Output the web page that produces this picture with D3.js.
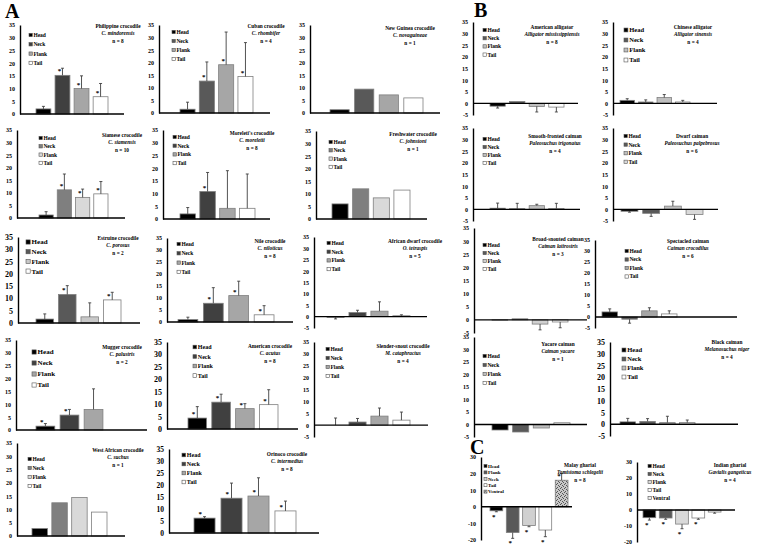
<!DOCTYPE html>
<html lang="en">
<head>
<meta charset="UTF-8">
<title>Body region panels</title>
<script src="https://d3js.org/d3.v7.min.js"></script>
<style>
  body { margin: 0; background: #fff; }
  text { font-family: 'Liberation Serif', 'Times New Roman', serif; font-weight: bold; }
</style>
</head>
<body>
<script>
// legend labels
const parts = ["Head", "Neck", "Flank", "Tail"];
const partsMalay = ["Head", "Flank", "Neck", "Tail", "Ventral"];
const partsIndian = ["Head", "Neck", "Flank", "Tail", "Ventral"];

// tick labels
const ticksPos = [0, 5, 10, 15, 20, 25, 30, 35];
const ticksNeg = [-5, 0, 5, 10, 15, 20, 25, 30, 35];
const ticksC = [-20, -10, 0, 10, 20, 30];

// mean values, top of error bar, asterisk flags
const philippineMean = [2, 15.2, 10, 6.8];
const philippineErr = [3, 18, 15, 12];
const philippineStar = [0, 1, 1, 1];
const cubanMean = [1.5, 12.7, 19.2, 14.5];
const cubanErr = [4.3, 20.3, 32.2, 28];
const cubanStar = [0, 1, 1, 1];
const newGuineaMean = [1.3, 9.5, 7.2, 6];
const siameseMean = [1.2, 11.2, 8.2, 9.6];
const siameseErr = [2.5, 17.5, 11.5, 14.5];
const siameseStar = [0, 1, 1, 1];
const moreletiMean = [2, 10.8, 4.2, 4.2];
const moreletiErr = [4.5, 18.3, 19, 17.7];
const moreletiStar = [0, 1, 0, 0];
const freshwaterMean = [6, 12, 8.4, 11.5];
const estuarineMean = [1.6, 11.6, 2.5, 9.4];
const estuarineErr = [3.7, 15.2, 8.2, 12.5];
const estuarineStar = [0, 1, 0, 1];
const nileMean = [1, 7.8, 11, 3];
const nileErr = [2, 14.3, 17, 6.8];
const nileStar = [0, 1, 1, 1];
const dwarfCrocMean = [-0.3, 1.8, 2.4, 0.4];
const dwarfCrocErr = [-1, 2.8, 6.5, 0.8];
const muggerMean = [1.5, 5.8, 8, null];
const muggerErr = [2.5, 8, 16, null];
const muggerStar = [1, 1, 0, 0];
const acutusMean = [4.4, 10.8, 8.2, 9.8];
const acutusErr = [9, 14, 10.2, 15.8];
const acutusStar = [1, 1, 1, 1];
const slenderMean = [0, 1.3, 3.8, 2.1];
const slenderErr = [3, 2.8, 7.2, 5.5];
const westAfricanMean = [2.8, 12.5, 14.5, 9];
const orinocoMean = [6.2, 14.5, 15.4, 9.2];
const orinocoErr = [6.8, 20.8, 23, 13.3];
const orinocoStar = [1, 1, 1, 1];

const alligatorMean = [-1.2, 0.8, -1.3, -1.6];
const alligatorErr = [-2, null, -3.7, -3.7];
const chineseMean = [1.3, 0.6, 2.5, 0.6];
const chineseErr = [2, 1.5, 3.8, 1.3];
const smoothMean = [0.5, 0.3, 1.6, 0.4];
const smoothErr = [2.7, 2.6, 2.2, 2.6];
const dwarfCaimanMean = [-0.8, -1.7, 1.4, -2.2];
const dwarfCaimanErr = [-1.2, -3, 3.5, -4.3];
const broadMean = [-0.1, 0.4, -1.6, -0.8];
const broadErr = [null, null, -3.8, -3];
const spectacledMean = [2.3, -1, 2.8, 1.4];
const spectacledErr = [3.7, -2.8, 4.2, 2.8];
const yacareMean = [-2.2, -3, -1.4, 0.7];
const blackMean = [1, 1.2, 0.7, 0.7];
const blackErr = [2.5, 2.4, 3.4, 1.8];

const malayMean = [-2.4, -15.5, -11.3, -14, 16];
const malayErr = [-3, -19, -12, -18, 20];
const malayStar = [1, 1, 1, 1, 1];
const indianMean = [-4.8, -5, -8.8, -5, -1.3];
const indianErr = [-6.3, -5.8, -11.7, -5.8, -2];
const indianStar = [1, 1, 1, 1, 0];

const palA = ["#000000", "#404040", "#a6a6a6", "#ffffff"];
const palLight = ["#000000", "#7f7f7f", "#d9d9d9", "#ffffff"];
const palB = ["#000000", "#595959", "#bfbfbf", "#ffffff"];
const palMalay = ["#000000", "#595959", "#d0d0d0", "#ffffff", "url(#stipple)"];
const palIndian = ["#000000", "#595959", "#d9d9d9", "#ffffff", "#ececec"];

const panels = [
  {name: ["Philippine crocodile", "C. mindorensis", "n = 8"], mean: philippineMean, err: philippineErr, star: philippineStar,
   ticks: ticksPos, pal: palA, box: [20, 124, 25, 114, 36, 108], title: [118, 26], legend: [29, 35, 9.3]},
  {name: ["Cuban crocodile", "C. rhombifer", "n = 4"], mean: cubanMean, err: cubanErr, star: cubanStar,
   ticks: ticksPos, pal: ["#000000", "#595959", "#a6a6a6", "#ffffff"], box: [159, 270, 25, 113, 180, 253], title: [266, 26], legend: [172, 32, 9]},
  {name: ["New Guinea crocodile", "C. novaguineae", "n = 1"], mean: newGuineaMean,
   ticks: ticksPos, pal: ["#000000", "#595959", "#a6a6a6", "#ffffff"], box: [310, 440, 25, 113, 330, 423], title: [410, 28]},
  {name: ["Siamese crocodile", "C. siamensis", "n = 10"], mean: siameseMean, err: siameseErr, star: siameseStar,
   ticks: ticksPos, pal: palLight, box: [17, 125, 130, 218, 39, 108], title: [122, 135], legend: [39, 138, 8.3]},
  {name: ["Moreleti's crocodile", "C. moreletii", "n = 8"], mean: moreletiMean, err: moreletiErr, star: moreletiStar,
   ticks: ticksPos, pal: palA, box: [163, 270, 130, 219, 180, 255], title: [252, 133], legend: [173, 137, 8.7]},
  {name: ["Freshwater crocodile", "C. johnstoni", "n = 1"], mean: freshwaterMean,
   ticks: ticksPos, pal: palLight, box: [316, 427, 131, 219, 332, 410], title: [413, 134], legend: [329, 142, 8.3]},
  {name: ["Estruine crocodile", "C. porosus", "n = 2"], mean: estuarineMean, err: estuarineErr, star: estuarineStar,
   ticks: ticksPos, pal: ["#000000", "#595959", "#c8c8c8", "#ffffff"], box: [18, 140, 237, 323, 36, 121], title: [118, 238], legend: [26, 242, 9.7], tfs: 8, lfs: 7},
  {name: ["Nile crocodile", "C. niloticus", "n = 8"], mean: nileMean, err: nileErr, star: nileStar,
   ticks: ticksPos, pal: palA, box: [167, 293, 238, 322, 178, 274], title: [270, 241], legend: [177, 244, 9.3]},
  {name: ["African dwarf crocodile", "O. tetraspis", "n = 5"], mean: dwarfCrocMean, err: dwarfCrocErr,
   ticks: ticksNeg, pal: palA, box: [314, 427, 237, 328, 327, 410], title: [415, 241], legend: [327, 243, 8.7]},
  {name: ["Mugger crocodile", "C. palustris", "n = 2"], mean: muggerMean, err: muggerErr, star: muggerStar,
   ticks: ticksPos, pal: palA, box: [16, 147, 340, 430, 36, 127], title: [122, 347], legend: [32, 352, 11], lfs: 7},
  {name: ["American crocodile", "C. acutus", "n = 8"], mean: acutusMean, err: acutusErr, star: acutusStar,
   ticks: ticksPos, pal: palA, box: [167, 298, 342, 429, 188, 278], title: [270, 346], legend: [193, 347, 9.5], tfs: 8, lfs: 6},
  {name: ["Slender-snout crocodile", "M. cataphractus", "n = 4"], mean: slenderMean, err: slenderErr,
   ticks: ticksNeg, pal: palA, box: [314, 428, 342, 437, 327, 410], title: [403, 346], legend: [326, 349, 9]},
  {name: ["West African crocodile", "C. suchus", "n = 1"], mean: westAfricanMean,
   ticks: ticksPos, pal: palLight, box: [17, 125, 443, 536, 32, 107], title: [118, 450], legend: [28, 459, 9]},
  {name: ["Orinoco crocodile", "C. intermedius", "n = 8"], mean: orinocoMean, err: orinocoErr, star: orinocoStar,
   ticks: ticksPos, pal: palA, box: [169, 319, 449, 533, 194, 296], title: [287, 454], legend: [182, 455, 9], tfs: 7.5, lfs: 6},

  {name: ["American alligator", "Alligator mississippiensis", "n = 8"], mean: alligatorMean, err: alligatorErr,
   ticks: ticksNeg, pal: palB, box: [473, 578, 22, 115, 490, 564], title: [552, 27], legend: [483, 30, 8.2]},
  {name: ["Chinese alligator", "Alligator sinensis", "n = 4"], mean: chineseMean, err: chineseErr,
   ticks: ticksNeg, pal: palB, box: [613, 717, 22, 115, 620, 690], title: [693, 27], legend: [624, 30, 10], lfs: 6.5},
  {name: ["Smooth-fronted caiman", "Paleosuchus trigonatus", "n = 4"], mean: smoothMean, err: smoothErr,
   ticks: ticksNeg, pal: palB, box: [473, 580, 128, 221, 490, 564], title: [555, 136], legend: [483, 139, 8]},
  {name: ["Dwarf caiman", "Paleosuchus palpebrosus", "n = 6"], mean: dwarfCaimanMean, err: dwarfCaimanErr,
   ticks: ticksNeg, pal: ["#000000", "#595959", "#bfbfbf", "#d9d9d9"], box: [613, 718, 128, 221, 621, 703], title: [692, 136], legend: [624, 136, 8.6]},
  {name: ["Broad-snouted caiman", "Caiman latirostris", "n = 3"], mean: broadMean, err: broadErr,
   ticks: ticksNeg, pal: ["#000000", "#595959", "#d0d0d0", "#ffffff"], box: [474, 587, 228, 333, 492, 568], title: [558, 239], legend: [483, 245, 8]},
  {name: ["Spectacled caiman", "Caiman crocodilus", "n = 6"], mean: spectacledMean, err: spectacledErr,
   ticks: ticksNeg, pal: ["#000000", "#595959", "#a6a6a6", "#ffffff"], box: [595, 737, 240, 328, 602, 677], title: [688, 241], legend: [625, 251, 8.5]},
  {name: ["Yacare caiman", "Caiman yacare", "n = 1"], mean: yacareMean,
   ticks: ticksNeg, pal: palB, box: [474, 587, 337, 437, 492, 570], title: [558, 344], legend: [483, 356, 9]},
  {name: ["Black caiman", "Melanosuchus niger", "n = 4"], mean: blackMean, err: blackErr,
   ticks: ticksNeg, pal: palB, box: [610, 738, 342, 436, 620, 695], title: [727, 342], legend: [622, 350, 9], tfs: 8, lfs: 6.5},

  {name: ["Malay gharial", "Tomistoma schlegelii", "n = 8"], mean: malayMean, err: malayErr, star: malayStar, labels: partsMalay,
   ticks: ticksC, pal: palMalay, box: [481, 572, 457, 540, 490, 568], title: [580, 465], legend: [484, 466, 6.4], lfs: 5},
  {name: ["Indian gharial", "Gavialis gangeticus", "n = 4"], mean: indianMean, err: indianErr, star: indianStar, labels: partsIndian,
   ticks: ticksC, pal: palIndian, box: [637, 735, 462, 542, 643, 721], title: [730, 465], legend: [648, 466, 8]}
];

const svg = d3.select("body").append("svg").attr("width", 760).attr("height", 547);

const pat = svg.append("defs").append("pattern").attr("id", "stipple")
  .attr("width", 4).attr("height", 4).attr("patternUnits", "userSpaceOnUse");
pat.append("rect").attr("width", 4).attr("height", 4).attr("fill", "#c8c8c8");
[[0, 0], [2, 1], [1, 3], [3, 2]].forEach(d => pat.append("rect")
  .attr("x", d[0]).attr("y", d[1]).attr("width", 1).attr("height", 1).attr("fill", "#555"));

function drawPanel(p) {
  const [ax, x1, yTop, yBot, b0, b1] = p.box;
  const g = svg.append("g");
  const y = d3.scaleLinear().domain(d3.extent(p.ticks)).range([yBot, yTop]);
  const x = d3.scaleBand().domain(d3.range(p.mean.length)).range([b0, b1]).paddingInner(0.22);
  const bw = x.bandwidth();

  const axis = g.append("g").attr("transform", `translate(${ax},0)`)
    .call(d3.axisLeft(y).tickValues(p.ticks).tickSize(0).tickPadding(5).tickFormat(d => String(d)));
  axis.attr("font-size", p.tfs || 6);
  axis.select(".domain").attr("stroke", "#000").attr("stroke-width", 1.4);

  const rows = p.mean.map((v, i) => ({v, i, e: p.err ? p.err[i] : null, s: p.star ? p.star[i] : 0}))
    .filter(d => d.v != null);

  g.selectAll("rect.bar").data(rows).join("rect").attr("class", "bar")
    .attr("x", d => x(d.i)).attr("width", bw)
    .attr("y", d => Math.min(y(d.v), y(0)))
    .attr("height", d => Math.abs(y(d.v) - y(0)))
    .attr("fill", d => p.pal[d.i]).attr("stroke", "#7f7f7f").attr("stroke-width", 0.8);

  const eb = rows.filter(d => d.e != null);
  g.selectAll("line.err").data(eb).join("line").attr("class", "err")
    .attr("x1", d => x(d.i) + bw / 2).attr("x2", d => x(d.i) + bw / 2)
    .attr("y1", d => y(d.v)).attr("y2", d => y(d.e))
    .attr("stroke", "#404040").attr("stroke-width", 0.9);
  g.selectAll("line.cap").data(eb).join("line").attr("class", "cap")
    .attr("x1", d => x(d.i) + bw / 2 - 1.5).attr("x2", d => x(d.i) + bw / 2 + 1.5)
    .attr("y1", d => y(d.e)).attr("y2", d => y(d.e))
    .attr("stroke", "#404040").attr("stroke-width", 0.9);

  g.append("line").attr("x1", ax).attr("x2", x1).attr("y1", y(0)).attr("y2", y(0))
    .attr("stroke", "#000").attr("stroke-width", 1.4);

  g.selectAll("text.star").data(rows.filter(d => d.s)).join("text").attr("class", "star")
    .attr("x", d => x(d.i) + bw * 0.3)
    .attr("y", d => d.v >= 0 ? y(d.v) - 2 : y(Math.min(d.v, d.e == null ? d.v : d.e)) + 7)
    .attr("text-anchor", "middle").attr("font-size", 7).text("*");

  if (p.legend) {
    const [lx, ly, dy] = p.legend;
    const fs = p.lfs || 5.5;
    const labels = p.labels || parts;
    const lg = g.selectAll("g.leg").data(labels).join("g").attr("class", "leg")
      .attr("transform", (d, i) => `translate(${lx},${ly + i * dy})`);
    lg.append("rect").attr("x", 0).attr("y", -fs * 0.3).attr("width", fs * 0.6).attr("height", fs * 0.6)
      .attr("fill", (d, i) => p.pal[i]).attr("stroke", "#555").attr("stroke-width", 0.6);
    lg.append("text").attr("x", fs * 0.8).attr("dy", "0.35em").attr("font-size", fs).text(d => d);
  }

  const [cx, ty] = p.title;
  g.selectAll("text.title").data(p.name).join("text").attr("class", "title")
    .attr("x", cx).attr("y", (d, i) => ty + i * 7.5).attr("dy", "0.35em")
    .attr("text-anchor", "middle").attr("font-size", 5.3)
    .attr("font-style", (d, i) => i === 1 ? "italic" : null)
    .text(d => d);
}

panels.forEach(drawPanel);

svg.selectAll("text.letter").data([["A", 5, 18], ["B", 474, 17], ["C", 470, 454]]).join("text")
  .attr("class", "letter").attr("x", d => d[1]).attr("y", d => d[2])
  .attr("font-size", 20).text(d => d[0]);
</script>
</body>
</html>
